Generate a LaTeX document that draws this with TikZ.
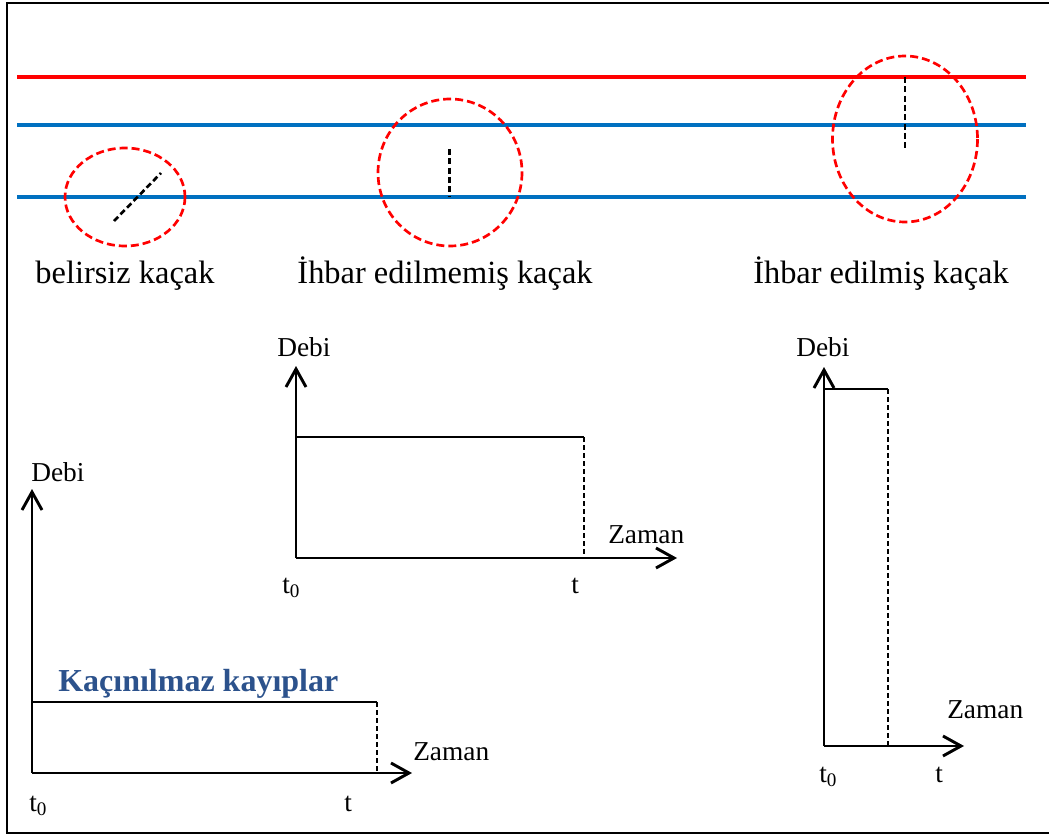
\documentclass[tikz,border=0pt]{standalone}
\usepackage{fontspec}
\setmainfont{Liberation Serif}
\usetikzlibrary{arrows.meta}
\definecolor{pipered}{RGB}{255,0,0}
\definecolor{pipeblue}{RGB}{0,112,192}
\definecolor{losscol}{RGB}{44,82,140}

\begin{document}
\begin{tikzpicture}[x=0.75pt,y=-0.75pt,
  frameline/.style={line width=2.2pt,black},
  mainpipe/.style={line width=3pt,pipered},
  branchpipe/.style={line width=2.4pt,pipeblue},
  zone/.style={pipered,line width=2pt,dash pattern=on 6pt off 3pt},
  crack/.style={line width=2pt,black,dash pattern=on 4.5pt off 2.5pt},
  axis/.style={line width=2.2pt,-{Straight Barb[length=13.5pt,width=15pt,line width=2.2pt]}},
  flow/.style={line width=2.2pt},
  cutoff/.style={line width=2pt,dash pattern=on 4pt off 2pt},
  caption/.style={font=\fontsize{24.3}{27}\selectfont,anchor=base,inner sep=0pt},
  axlabel/.style={font=\fontsize{20.5}{23}\selectfont,anchor=base west,inner sep=0pt},
  tick/.style={font=\fontsize{20.5}{23}\selectfont,anchor=base west,inner sep=0pt}
]
\useasboundingbox (0,0) rectangle (1049,834);

% outer frame (left, top and bottom sides)
\draw[frameline] (1049,3) -- (7,3) -- (7,833) -- (1049,833);

% pipes
\coordinate (redL) at (17,77);   \coordinate (redR) at (1026,77);
\coordinate (bl1L) at (17,125);  \coordinate (bl1R) at (1026,125);
\coordinate (bl2L) at (17,197);  \coordinate (bl2R) at (1026,197);
\draw[mainpipe] (redL) -- (redR);
\draw[branchpipe] (bl1L) -- (bl1R);
\draw[branchpipe] (bl2L) -- (bl2R);

% leak zones
\draw[zone] (125,197) ellipse [x radius=60,y radius=49];
\draw[zone] (450,172.5) ellipse [x radius=72,y radius=73.5];
\draw[zone] (905,139) ellipse [x radius=72.5,y radius=83];

% cracks
\coordinate (c1a) at (114,221); \coordinate (c1b) at (161,173);
\coordinate (c2a) at (449.5,149); \coordinate (c2b) at (449.5,197);
\coordinate (c3a) at (905,77); \coordinate (c3b) at (905,149);
\draw[crack] (c1a) -- (c1b);
\draw[crack] (c2a) -- (c2b);
\draw[crack] (c3a) -- (c3b);

% captions
\node[caption] (cap1) at (125,283) {belirsiz kaçak};
\node[caption] (cap2) at (445,283) {İhbar edilmemiş kaçak};
\node[caption] (cap3) at (881,283) {İhbar edilmiş kaçak};

% chart: unavoidable losses
\coordinate (o1) at (32,773);
\coordinate (y1) at (32,489);
\coordinate (x1) at (412,773);
\coordinate (q1) at (32,702);
\coordinate (r1) at (377,702);
\coordinate (s1) at (377,773);
\draw[axis] (o1) -- (y1);
\draw[axis] (o1) -- (x1);
\draw[flow] (q1) -- (r1);
\draw[cutoff] (r1) -- (s1);
\node[axlabel] (d1) at (31,481) {Debi};
\node[axlabel] (z1) at (413,760) {Zaman};
\node[tick] (t01) at (29,811) {t\textsubscript{0}};
\node[tick] (t1) at (344,811) {t};
\node[font=\bfseries\fontsize{24}{26}\selectfont,text=losscol,anchor=base west,inner sep=0pt] (loss) at (58,691) {Kaçınılmaz kayıplar};

% chart: unreported leak
\coordinate (o2) at (296,558);
\coordinate (y2) at (296,366);
\coordinate (x2) at (677,558);
\coordinate (q2) at (296,437);
\coordinate (r2) at (584,437);
\coordinate (s2) at (584,558);
\draw[axis] (o2) -- (y2);
\draw[axis] (o2) -- (x2);
\draw[flow] (q2) -- (r2);
\draw[cutoff] (r2) -- (s2);
\node[axlabel] (d2) at (277,356) {Debi};
\node[axlabel] (z2) at (608,543) {Zaman};
\node[tick] (t02) at (282,593) {t\textsubscript{0}};
\node[tick] (t2) at (571,593) {t};

% chart: reported leak
\coordinate (o3) at (824,746);
\coordinate (y3) at (824,367);
\coordinate (x3) at (964,746);
\coordinate (q3) at (824,389);
\coordinate (r3) at (888,389);
\coordinate (s3) at (888,746);
\draw[axis] (o3) -- (y3);
\draw[axis] (o3) -- (x3);
\draw[flow] (q3) -- (r3);
\draw[cutoff] (r3) -- (s3);
\node[axlabel] (d3) at (796,356) {Debi};
\node[axlabel] (z3) at (947,718) {Zaman};
\node[tick] (t03) at (819,782) {t\textsubscript{0}};
\node[tick] (t3) at (935,782) {t};
\end{tikzpicture}
\end{document}
